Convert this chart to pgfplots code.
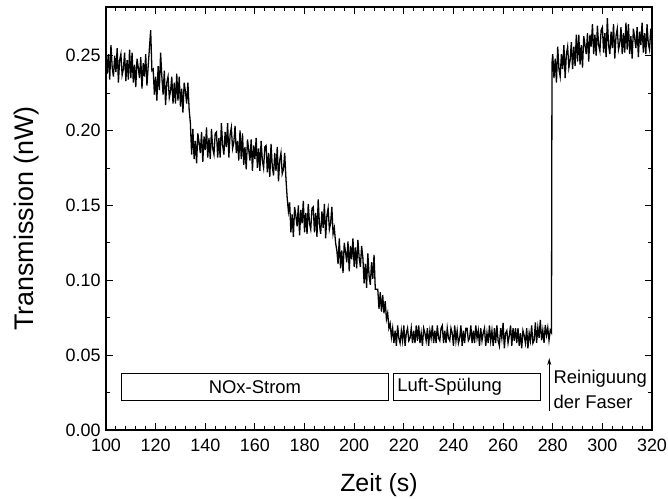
\documentclass[border=0pt]{standalone}
\usepackage{fontspec}
\setmainfont{Liberation Sans}
\usepackage{pgfplots}
\pgfplotsset{compat=1.18}
\usetikzlibrary{arrows.meta}

\begin{document}
\begin{tikzpicture}[x=1bp,y=1bp]
% keep the page the size of the reference
\path[use as bounding box] (-106,-69) rectangle (562,430);
\begin{axis}[
    width=546bp, height=423bp,
    scale only axis,
    at={(0,0)}, anchor=south west,
    xmin=100, xmax=320,
    ymin=0, ymax=0.2825,
    xtick={100,120,...,320},
    ytick={0,0.05,0.10,0.15,0.20,0.25},
    minor x tick num=4,
    minor y tick num=1,
    tick align=inside,
    major tick length=7bp,
    minor tick length=4bp,
    axis line style={line width=1.1pt},
    every tick/.style={line width=0.9pt, black},
    tick label style={font=\fontsize{18}{22}\selectfont},
    /pgf/number format/assume math mode=true,
    yticklabel style={xshift=-2bp, /pgf/number format/.cd, fixed, fixed zerofill, precision=2},
    xticklabel style={yshift=-5bp, /pgf/number format/.cd, fixed, precision=0},
    xlabel={Zeit (s)},
    ylabel={Transmission (nW)},
    xlabel style={font=\fontsize{25}{30}\selectfont, at={(axis description cs:0.5,-0.13)}, anchor=center},
    ylabel style={font=\fontsize{27}{30}\selectfont, at={(axis description cs:-0.145,0.5)}, anchor=center},
]
\addplot[black, line width=1.3pt] coordinates {
(100.0,0.255)(100.5,0.238)(101.0,0.251)(101.5,0.234)(102.0,0.257)(102.5,0.242)(103.0,0.236)(103.5,0.250)(104.0,0.239)(104.5,0.255)
(105.0,0.232)(105.5,0.247)(106.0,0.251)(106.5,0.237)(107.0,0.241)(107.5,0.252)(108.0,0.233)(108.5,0.247)(109.0,0.234)(109.5,0.254)
(110.0,0.235)(110.5,0.252)(111.0,0.232)(111.5,0.244)(112.0,0.229)(112.5,0.248)(113.0,0.242)(113.5,0.235)(114.0,0.249)(114.5,0.228)
(115.0,0.245)(115.5,0.236)(116.0,0.251)(116.5,0.230)(117.0,0.243)(117.5,0.255)(118.0,0.267)(118.5,0.240)
(119.0,0.241)(119.5,0.224)(120.0,0.236)(120.5,0.220)(121.0,0.243)(121.5,0.227)(122.0,0.252)(122.5,0.236)(123.0,0.224)(123.5,0.240)
(124.0,0.217)(124.5,0.232)(125.0,0.236)(125.5,0.222)(126.0,0.226)(126.5,0.236)(127.0,0.218)(127.5,0.232)(128.0,0.218)(128.5,0.238)
(129.0,0.220)(129.5,0.236)(130.0,0.216)(130.5,0.228)(131.0,0.212)(131.5,0.232)(132.0,0.226)(132.5,0.218)(133.0,0.232)(133.5,0.214)(134.0,0.205)
(134.5,0.184)(135.0,0.201)(135.5,0.181)(136.0,0.193)(136.5,0.178)(137.0,0.198)(137.5,0.192)(138.0,0.185)(138.5,0.199)(139.0,0.179)
(139.5,0.196)(140.0,0.187)(140.5,0.202)(141.0,0.182)(141.5,0.195)(142.0,0.181)(142.5,0.201)(143.0,0.188)(143.5,0.184)(144.0,0.198)
(144.5,0.199)(145.0,0.182)(145.5,0.195)(146.0,0.182)(146.5,0.205)(147.0,0.190)(147.5,0.184)(148.0,0.199)(148.5,0.189)(149.0,0.205)
(149.5,0.182)(150.0,0.197)(150.5,0.202)(151.0,0.188)(151.5,0.192)(152.0,0.203)(152.5,0.185)(153.0,0.193)(153.5,0.180)(154.0,0.200)
(154.5,0.181)(155.0,0.198)(155.5,0.177)(156.0,0.189)(156.5,0.174)(157.0,0.194)(157.5,0.187)(158.0,0.180)(158.5,0.194)(159.0,0.173)
(159.5,0.190)(160.0,0.181)(160.5,0.195)(161.0,0.175)(161.5,0.188)(162.0,0.173)(162.5,0.193)(163.0,0.180)(163.5,0.175)(164.0,0.189)
(164.5,0.190)(165.0,0.172)(165.5,0.185)(166.0,0.169)(166.5,0.191)(167.0,0.176)(167.5,0.170)(168.0,0.185)(168.5,0.173)(169.0,0.189)
(169.5,0.166)(170.0,0.180)(170.5,0.185)(171.0,0.171)(171.5,0.174)(172.0,0.185)(172.5,0.168)(173.0,0.155)(173.5,0.146)
(174.0,0.152)(174.5,0.132)(175.0,0.144)(175.5,0.129)(176.0,0.149)(176.5,0.143)(177.0,0.136)(177.5,0.150)(178.0,0.130)(178.5,0.147)
(179.0,0.138)(179.5,0.153)(180.0,0.132)(180.5,0.145)(181.0,0.131)(181.5,0.151)(182.0,0.138)(182.5,0.134)(183.0,0.148)(183.5,0.149)
(184.0,0.132)(184.5,0.145)(185.0,0.129)(185.5,0.154)(186.0,0.137)(186.5,0.131)(187.0,0.146)(187.5,0.135)(188.0,0.151)(188.5,0.128)
(189.0,0.143)(189.5,0.148)(190.0,0.134)(190.5,0.138)(191.0,0.149)(191.5,0.131)(192.0,0.135)(192.5,0.125)(193.0,0.120)
(193.5,0.111)(194.0,0.128)(194.5,0.108)(195.0,0.120)(195.5,0.105)(196.0,0.125)(196.5,0.119)(197.0,0.112)(197.5,0.126)(198.0,0.106)
(198.5,0.123)(199.0,0.114)(199.5,0.128)(200.0,0.109)(200.5,0.122)(201.0,0.108)(201.5,0.127)(202.0,0.115)(202.5,0.109)(203.0,0.123)
(203.5,0.115)(204.0,0.098)(204.5,0.111)(205.0,0.095)(205.5,0.118)(206.0,0.103)(206.5,0.097)(207.0,0.112)(207.5,0.101)(208.0,0.117)
(208.5,0.094)(209.0,0.094)
(209.5,0.094)(210.0,0.081)(210.5,0.092)(211.0,0.079)(211.5,0.090)(212.0,0.078)(212.5,0.086)(213.0,0.074)(213.5,0.078)(214.0,0.068)(214.5,0.071)(215.0,0.062)
(215.5,0.0680)(216.0,0.0580)(216.5,0.0664)(217.0,0.0562)(217.5,0.0698)(218.0,0.0613)(218.5,0.0580)(219.0,0.0664)(219.5,0.0596)(220.0,0.0698)
(220.5,0.0562)(221.0,0.0647)(221.5,0.0680)(222.0,0.0596)(222.5,0.0613)(223.0,0.0680)(223.5,0.0580)(224.0,0.0664)(224.5,0.0580)(225.0,0.0698)
(225.5,0.0596)(226.0,0.0698)(226.5,0.0580)(227.0,0.0647)(227.5,0.0562)(228.0,0.0680)(228.5,0.0647)(229.0,0.0596)(229.5,0.0680)(230.0,0.0562)
(230.5,0.0664)(231.0,0.0613)(231.5,0.0698)(232.0,0.0580)(232.5,0.0664)(233.0,0.0580)(233.5,0.0698)(234.0,0.0613)(234.5,0.0596)(235.0,0.0680)
(235.5,0.0698)(236.0,0.0580)(236.5,0.0664)(237.0,0.0580)(237.5,0.0680)(238.0,0.0613)(238.5,0.0596)(239.0,0.0680)(239.5,0.0647)(240.0,0.0562)
(240.5,0.0698)(241.0,0.0596)(241.5,0.0664)(242.0,0.0580)(242.5,0.0613)(243.0,0.0698)(243.5,0.0562)(244.0,0.0664)(244.5,0.0580)(245.0,0.0680)
(245.5,0.0680)(246.0,0.0596)(246.5,0.0613)(247.0,0.0698)(247.5,0.0580)(248.0,0.0664)(248.5,0.0580)(249.0,0.0698)(249.5,0.0613)(250.0,0.0664)
(250.5,0.0562)(251.0,0.0680)(251.5,0.0596)(252.0,0.0647)(252.5,0.0680)(253.0,0.0562)(253.5,0.0647)(254.0,0.0580)(254.5,0.0698)(255.0,0.0596)
(255.5,0.0664)(256.0,0.0562)(256.5,0.0680)(257.0,0.0580)(257.5,0.0698)(258.0,0.0596)(258.5,0.0562)(259.0,0.0680)(259.5,0.0613)(260.0,0.0715)
(260.5,0.0545)(261.0,0.0647)(261.5,0.0664)(262.0,0.0580)(262.5,0.0630)(263.0,0.0698)(263.5,0.0562)(264.0,0.0680)(264.5,0.0596)(265.0,0.0680)
(265.5,0.0580)(266.0,0.0680)(266.5,0.0562)(267.0,0.0647)(267.5,0.0545)(268.0,0.0664)(268.5,0.0630)(269.0,0.0580)(269.5,0.0680)(270.0,0.0545)
(270.5,0.0647)(271.0,0.0596)(271.5,0.0698)(272.0,0.0580)
(272.5,0.0599)(273.0,0.0718)(273.5,0.0582)(274.0,0.0684)(274.5,0.0616)(275.0,0.0735)(275.5,0.0599)(276.0,0.0667)(276.5,0.0582)(277.0,0.0701)
(277.5,0.0633)(278.0,0.0684)(278.5,0.0599)(279.0,0.0667)(279.5,0.065)(279.7,0.245)
(280.0,0.251)(280.5,0.235)(281.0,0.248)(281.5,0.232)(282.0,0.256)(282.5,0.241)(283.0,0.236)(283.5,0.251)(284.0,0.241)(284.5,0.257)
(285.0,0.235)(285.5,0.251)(286.0,0.256)(286.5,0.242)(287.0,0.247)(287.5,0.259)(288.0,0.241)(288.5,0.256)(289.0,0.243)(289.5,0.264)
(290.0,0.246)(290.5,0.264)(291.0,0.244)(291.5,0.257)(292.0,0.242)(292.5,0.263)(293.0,0.257)(293.5,0.251)(294.0,0.265)(294.5,0.246)
(295.0,0.264)(295.5,0.256)(296.0,0.271)(296.5,0.251)(297.0,0.264)(297.5,0.250)(298.0,0.270)(298.5,0.257)(299.0,0.253)(299.5,0.267)
(300.0,0.269)(300.5,0.252)(301.0,0.265)(301.5,0.249)(302.0,0.275)(302.5,0.257)(303.0,0.251)(303.5,0.266)(304.0,0.255)(304.5,0.271)
(305.0,0.248)(305.5,0.263)(306.0,0.268)(306.5,0.254)(307.0,0.258)(307.5,0.269)(308.0,0.251)(308.5,0.265)(309.0,0.252)(309.5,0.272)
(310.0,0.254)(310.5,0.271)(311.0,0.251)(311.5,0.263)(312.0,0.248)(312.5,0.268)(313.0,0.262)(313.5,0.255)(314.0,0.269)(314.5,0.249)
(315.0,0.266)(315.5,0.257)(316.0,0.272)(316.5,0.252)(317.0,0.265)(317.5,0.251)(318.0,0.271)(318.5,0.258)(319.0,0.254)(319.5,0.268)
(320.0,0.262)
};
% annotations
\draw[line width=0.8pt] (axis cs:106.3,0.020) rectangle (axis cs:213.6,0.0375);
\node[font=\fontsize{18.5}{22}\selectfont] at (axis cs:160,0.0288) {NOx-Strom};
\draw[line width=0.8pt] (axis cs:216.0,0.020) rectangle (axis cs:275.1,0.0375);
\node[font=\fontsize{18.5}{22}\selectfont, anchor=west, inner sep=0pt] at (axis cs:217.3,0.0288) {Luft-Spülung};
\draw[line width=0.8pt, -{Stealth[length=7bp,width=4bp]}] (axis cs:278.6,0.0127) -- (axis cs:278.6,0.048);
\node[font=\fontsize{18.5}{22}\selectfont, anchor=west, inner sep=0pt] at (axis cs:280.3,0.0345) {Reiniguung};
\node[font=\fontsize{18.5}{22}\selectfont, anchor=west, inner sep=0pt] at (axis cs:280.3,0.0190) {der Faser};
\end{axis}
\end{tikzpicture}
\end{document}
